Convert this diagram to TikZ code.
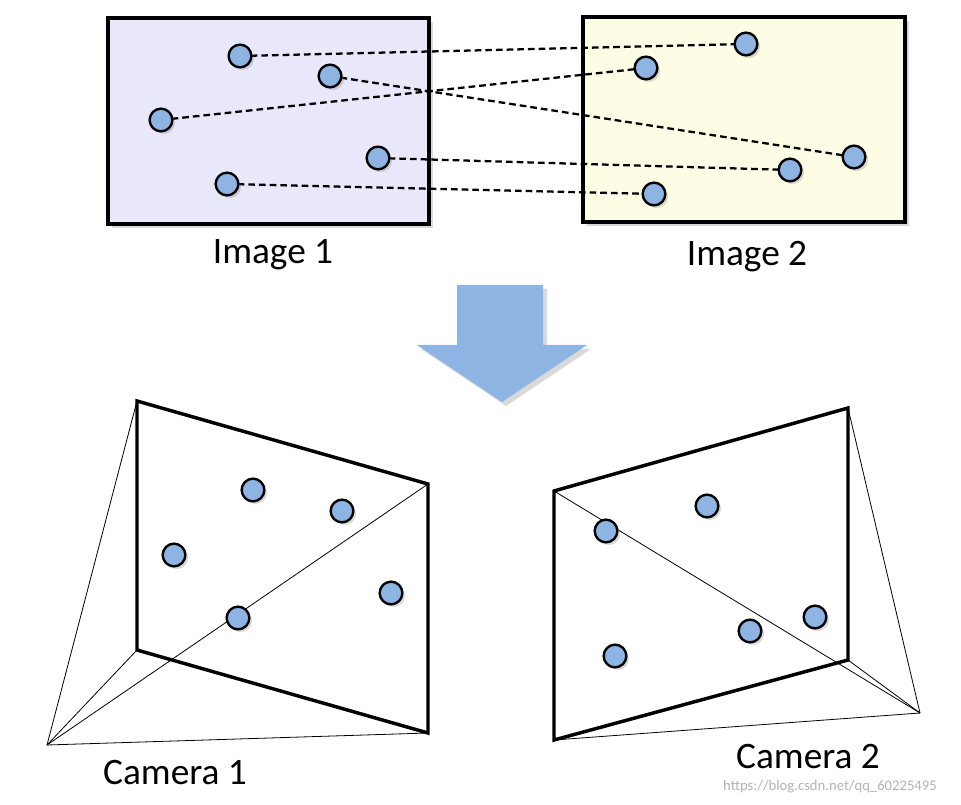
\documentclass[tikz,border=0pt]{standalone}
\usepackage{fontspec}
\setmainfont{Carlito}
\usetikzlibrary{shadows}
\definecolor{dotc}{HTML}{8EB4E3}
\definecolor{lav}{HTML}{E8E8FA}
\definecolor{ylw}{HTML}{FDFDE6}
\begin{document}
\begin{tikzpicture}[x=0.75pt,y=-0.75pt,
  dot/.style={circle,draw=black,line width=1.8pt,fill=dotc,minimum size=17pt,inner sep=0pt,drop shadow={shadow xshift=2pt,shadow yshift=-2pt,opacity=0.3}},
  frame/.style={line width=2.6pt,line join=miter},
  match/.style={line width=1.7pt,dash pattern=on 5pt off 3pt},
  ray/.style={line width=0.6pt},
  lab/.style={font=\fontsize{28}{32}\selectfont}]
\useasboundingbox (0,0) rectangle (961,805);
\draw[frame,fill=lav,drop shadow={shadow xshift=3pt,shadow yshift=-3pt,opacity=0.3}] (108,18) rectangle (429,224);
\draw[frame,fill=ylw,drop shadow={shadow xshift=3pt,shadow yshift=-3pt,opacity=0.3}] (583,17) rectangle (905,222);
\node[lab] (l1) at (273,255) {Image 1};
\node[lab] (l2) at (747,257) {Image 2};
\foreach \n/\x/\y in {a1/240/56,a2/330/76,a3/161/120,a4/378/158,a5/227/184,
  b1/746/44,b2/646/68,b3/854/157,b4/790/170,b5/654/194}
  \coordinate (\n) at (\x,\y);
\draw[match] (a1)--(b1); \draw[match] (a2)--(b3); \draw[match] (a3)--(b2);
\draw[match] (a4)--(b4); \draw[match] (a5)--(b5);
\foreach \n in {a1,a2,a3,a4,a5,b1,b2,b3,b4,b5} \node[dot] (d\n) at (\n) {};
% arrow
\fill[dotc,drop shadow={shadow xshift=3pt,shadow yshift=-3pt,opacity=0.3}] (457,285)--(543,285)--(543,345)--(587,345)--(502,402)--(417,345)--(457,345)--cycle;
% camera 1
\coordinate (c1) at (47,745);
\coordinate (p1) at (137,401); \coordinate (p2) at (428,484);
\coordinate (p3) at (428,733); \coordinate (p4) at (137,650);
\draw[frame] (p1)--(p2)--(p3)--(p4)--cycle;
\foreach \p in {p1,p2,p3,p4} \draw[ray] (c1)--(\p);
\foreach \n/\x/\y in {e1/253/490,e2/342/511,e3/174/555,e4/391/593,e5/238/618}
  \node[dot] (\n) at (\x,\y) {};
\node[lab] (l3) at (175,773) {Camera 1};
% camera 2
\coordinate (c2) at (920,713);
\coordinate (q1) at (554,491); \coordinate (q2) at (848,408);
\coordinate (q3) at (848,660); \coordinate (q4) at (554,740);
\draw[frame] (q1)--(q2)--(q3)--(q4)--cycle;
\foreach \p in {q1,q2,q3,q4} \draw[ray] (c2)--(\p);
\foreach \n/\x/\y in {f1/707/506,f2/606/531,f3/815/617,f4/750/631,f5/615/656}
  \node[dot] (\n) at (\x,\y) {};
\node[lab] (l4) at (808,757) {Camera 2};
\node[text=gray!60,font=\fontsize{11}{13}\selectfont] (w) at (830,787) {https://blog.csdn.net/qq\_60225495};
\end{tikzpicture}
\end{document}
